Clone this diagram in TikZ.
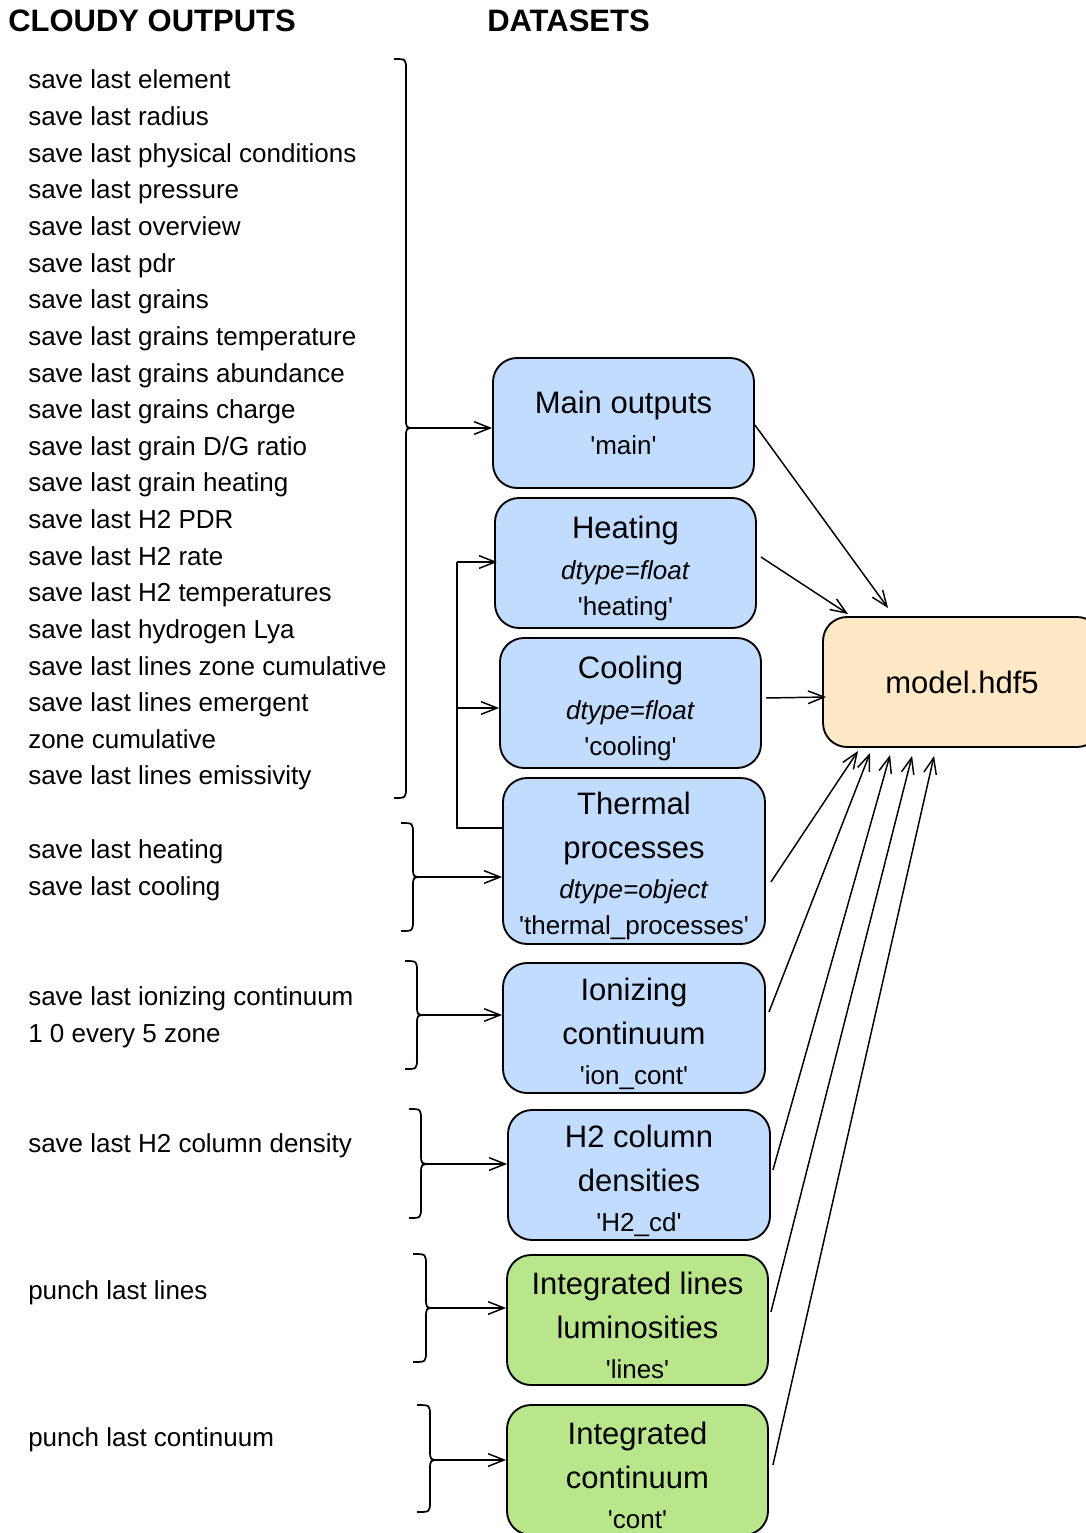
\documentclass[tikz,border=0pt]{standalone}
\usepackage{fontspec}
\setmainfont{Liberation Sans}
\usetikzlibrary{arrows.meta,calc}
\definecolor{boxblue}{RGB}{193,220,255}
\definecolor{boxgreen}{RGB}{185,230,138}
\definecolor{boxpeach}{RGB}{254,232,198}
\newcommand\ttl[1]{{\fontsize{23.25pt}{30pt}\selectfont #1}}
\newcommand\ttlf[1]{{\fontsize{23.25pt}{30pt}\selectfont\rule{0pt}{25pt}#1}}
\newcommand\sq{\textquotesingle}
\newcommand\mybrace[7]{%
  % #1 name, #2 end x, #3 spine x, #4 tip x, #5 top y, #6 tip y, #7 bottom y
  \draw[bracestyle] (#2,#5) .. controls (#3,#5) .. (#3,#5+11) -- (#3,#6-10)
     .. controls (#3,#6) .. (#4,#6) .. controls (#3,#6) .. (#3,#6+10)
     -- (#3,#7-11) .. controls (#3,#7) .. (#2,#7);
  \coordinate (#1) at (#4,#6);
}
\begin{document}
\begin{tikzpicture}[x=0.75pt,y=-0.75pt,
  box/.style={draw=black, line width=1.4pt, rounded corners=18pt, align=center,
    inner sep=0pt, font=\fontsize{19.5pt}{30pt}\selectfont},
  bluebox/.style={box, fill=boxblue, minimum width=261*0.75pt, minimum height=130*0.75pt},
  greenbox/.style={box, fill=boxgreen, minimum width=261*0.75pt, minimum height=130*0.75pt},
  lefttext/.style={anchor=base west, inner sep=0pt, font=\fontsize{19.5pt}{24pt}\selectfont},
  header/.style={anchor=base west, inner sep=0pt, font=\fontsize{23.25pt}{28pt}\selectfont\bfseries},
  arr/.style={-{Straight Barb[length=12pt,width=9.5pt]}, line width=1.1pt},
  bracestyle/.style={line width=1.3pt},
  link/.style={line width=1.1pt}
]
\useasboundingbox (0,0) rectangle (1085,1533);

% headers
\node[header] (h1) at (8,32) {CLOUDY OUTPUTS};
\node[header] (h2) at (487,32) {DATASETS};

% left texts
\foreach \t [count=\i] in {{save last element},{save last radius},{save last physical conditions},
  {save last pressure},{save last overview},{save last pdr},{save last grains},
  {save last grains temperature},{save last grains abundance},{save last grains charge},
  {save last grain D/G ratio},{save last grain heating},{save last H2 PDR},{save last H2 rate},
  {save last H2 temperatures},{save last hydrogen Lya},{save last lines zone cumulative},
  {save last lines emergent},{zone cumulative},{save last lines emissivity}}
  \node[lefttext] (l\i) at (28,{89+36.63*(\i-1)}) {\t};
\node[lefttext] (th1) at (28,858) {save last heating};
\node[lefttext] (th2) at (28,895) {save last cooling};
\node[lefttext] (io1) at (28,1005) {save last ionizing continuum};
\node[lefttext] (io2) at (28,1042) {1 0 every 5 zone};
\node[lefttext] (hc1) at (28,1152) {save last H2 column density};
\node[lefttext] (pl1) at (28,1299) {punch last lines};
\node[lefttext] (pc1) at (28,1446) {punch last continuum};

% boxes
\node[bluebox] (main) at (623.5,423) {\ttl{Main outputs}\\[1pt]\sq main\sq};
\node[bluebox] (heat) at (625.5,563) {\ttlf{Heating}\\[1pt]\textit{dtype=float}\\[-3pt]\sq heating\sq};
\node[bluebox] (cool) at (630.5,703) {\ttlf{Cooling}\\[1pt]\textit{dtype=float}\\[-3pt]\sq cooling\sq};
\node[bluebox, minimum width=262*0.75pt, minimum height=166*0.75pt] (therm) at (634,861)
  {\ttlf{Thermal}\\[3pt]\ttl{processes}\\[0pt]\textit{dtype=object}\\[-3pt]\sq thermal\_processes\sq};
\node[bluebox, minimum width=262*0.75pt] (ion) at (634,1028) {\ttlf{Ionizing}\\[3pt]\ttl{continuum}\\[0pt]\sq ion\_cont\sq};
\node[bluebox, minimum width=262*0.75pt] (htwo) at (639,1175) {\ttlf{H2 column}\\[3pt]\ttl{densities}\\[0pt]\sq H2\_cd\sq};
\node[greenbox] (lines) at (637.5,1320) {\ttlf{Integrated lines}\\[3pt]\ttl{luminosities}\\[0pt]\sq lines\sq};
\node[greenbox] (cont) at (637.5,1470) {\ttlf{Integrated}\\[3pt]\ttl{continuum}\\[0pt]\sq cont\sq};
\node[box, fill=boxpeach, minimum width=278*0.75pt, minimum height=130*0.75pt] (model) at (962,682) {\ttl{model.hdf5}};

% braces
\mybrace{t1}{394}{406}{414}{59}{428}{798}
\mybrace{t2}{401}{413}{422}{823}{877}{931}
\mybrace{t3}{405}{417}{426}{961}{1015}{1069}
\mybrace{t4}{409}{421}{431}{1109}{1164}{1218}
\mybrace{t5}{413}{426}{435}{1254}{1308}{1362}
\mybrace{t6}{417}{430}{440}{1405}{1460}{1512}

\draw[arr] (t1) -- (main.west |- t1);
\draw[arr] (t2) -- (therm.west |- t2);
\draw[arr] (t3) -- (ion.west |- t3);
\draw[arr] (t4) -- (htwo.west |- t4);
\draw[arr] (t5) -- (lines.west |- t5);
\draw[arr] (t6) -- (cont.west |- t6);

% bracket from thermal processes to heating / cooling
\coordinate (bk1) at (457,828);
\coordinate (bk2) at (457,562);
\coordinate (bk3) at (457,708);
\draw[link] (therm.west |- bk1) -- (bk1) -- (bk2);
\draw[arr] (bk2) -- ($(heat.west |- bk2)+(3,0)$);
\draw[arr] (bk3) -- (cool.west |- bk3);

% arrows to model.hdf5
\draw[arr] ($(main.east)+(0,2)$) -- ($(model.north west)+(66,-8)$);
\draw[arr] ($(heat.east)+(4,-6)$) -- ($(model.north west)+(26,-2)$);
\draw[arr] ($(cool.east)+(4,-5)$) -- ($(model.west)+(4,15)$);
\draw[arr] ($(therm.east)+(5,21)$) -- ($(model.south west)+(36,3)$);
\draw[arr] ($(ion.east)+(3,-16)$) -- ($(model.south west)+(48,5)$);
\draw[arr] ($(htwo.east)+(2,-5)$) -- ($(model.south west)+(68,7)$);
\draw[arr] ($(lines.east)+(2,-8)$) -- ($(model.south west)+(90,8)$);
\draw[arr] ($(cont.east)+(4,-5)$) -- ($(model.south west)+(112,8)$);
\end{tikzpicture}
\end{document}
